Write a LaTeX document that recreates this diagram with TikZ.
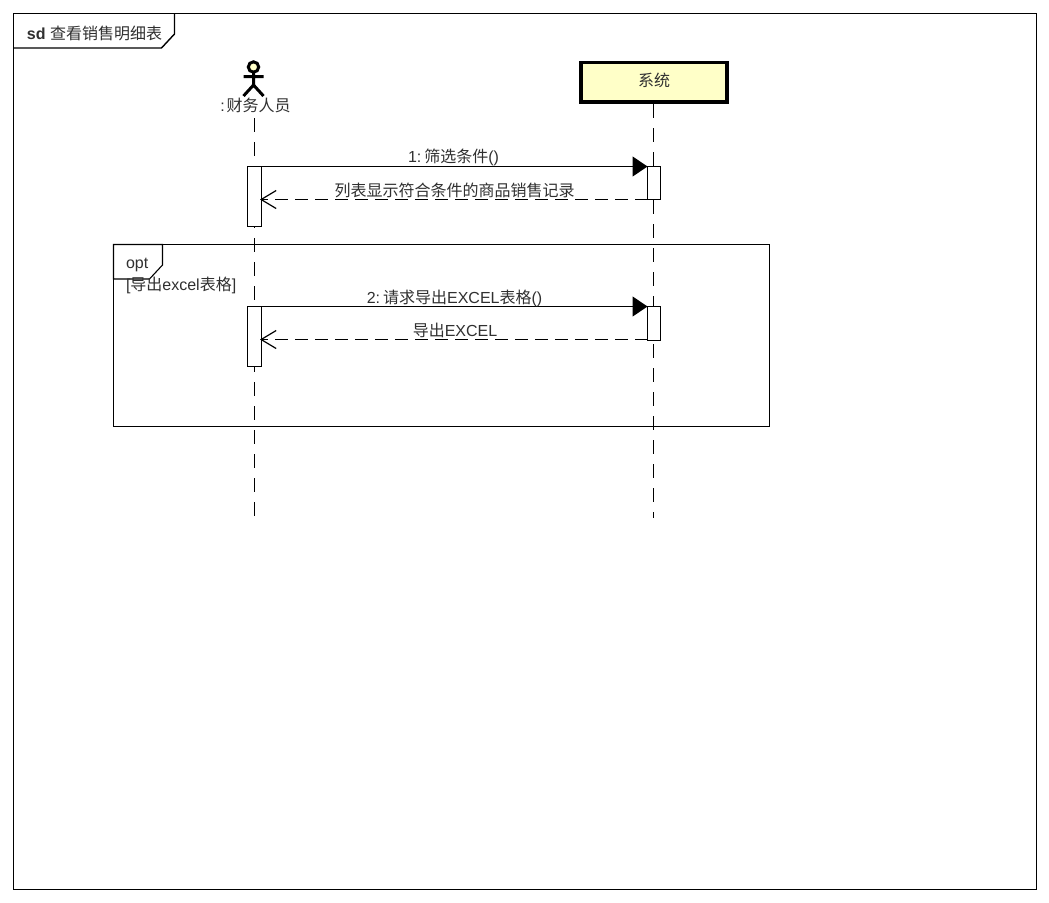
\documentclass[tikz,border=0pt]{standalone}
\usepackage{fontspec}
\setmainfont{Liberation Sans}
\newfontfamily\cjk{Noto Sans CJK SC}
\usetikzlibrary{arrows.meta}
\definecolor{noteyellow}{HTML}{FFFFC8}
\definecolor{txt}{HTML}{303030}
\tikzset{
  every node/.style={inner sep=0pt,outer sep=0pt,text=txt,font=\fontsize{16}{18}\selectfont},
  lifeline/.style={line width=1.1pt,dash pattern=on 14pt off 10pt},
  activation/.style={draw=black,fill=white,line width=1.1pt,anchor=north},
  syncmsg/.style={line width=1.2pt,-{Triangle[length=15pt,width=20pt]}},
  replymsg/.style={line width=1.2pt,dash pattern=on 13pt off 7pt,-{Straight Barb[length=15pt,width=18pt,line width=1.2pt]}},
  framebox/.style={line width=1.1pt},
  msglabel/.style={anchor=base},
}
\begin{document}
\begin{tikzpicture}[x=1pt,y=-1pt]
\useasboundingbox (0,0) rectangle (1049,902);
\fill[white] (0,0) rectangle (1049,902);
% outer frame
\node[draw=black,line width=1.1pt,minimum width=1023pt,minimum height=876pt,anchor=north west] (frame) at (13.5,13.5) {};
\draw[framebox,line width=1.4pt] (174.5,13.5) -- (174.5,34) -- (161.5,48) -- (13.5,48);
\node[anchor=base west] (sdlabel) at (27,39) {\textbf{sd} {\cjk 查看销售明细表}};
% actor
\coordinate (head) at (253.5,67);
\draw[line width=3pt,fill=noteyellow] (head) circle (5.2);
\draw[line width=3pt] (253.5,72.5) -- (253.5,85) (243.5,76.5) -- (263.5,76.5) (243.5,96) -- (253.5,85) -- (263.5,96);
\node[anchor=base] (actor) at (255.5,111.5) {:\hspace{2pt}{\cjk 财务人员}};
% system
\node[draw=black,fill=noteyellow,line width=3.2pt,minimum width=146pt,minimum height=39.5pt] (sys) at (654,82.25) {};
\node (systext) at (654,80) {\cjk 系统};
% lifeline ends
\coordinate (actorstart) at (254.5,118);
\coordinate (actorend) at (254.5,518);
\coordinate (sysstart) at (653.5,104);
\coordinate (sysend) at (653.5,518);
\draw[lifeline] (actorstart) -- (actorend);
\draw[lifeline] (sysstart) -- (sysend);
% opt frame
\node[draw=black,line width=1.1pt,minimum width=656pt,minimum height=182pt,anchor=north west] (opt) at (113.5,244.5) {};
\draw[framebox,fill=white] (113.5,244.5) -- (162.5,244.5) -- (162.5,265) -- (149.5,279) -- (113.5,279) -- cycle;
\node[anchor=base west] (optlabel) at (126,268.5) {opt};
\node[anchor=base west] (guard) at (126,290.5) {[{\cjk 导出}excel{\cjk 表格}]};
% activations
\node[activation,minimum width=14pt,minimum height=60pt] (a1) at (254.5,166.5) {};
\node[activation,minimum width=13pt,minimum height=33pt] (s1) at (654,166.5) {};
\node[activation,minimum width=14pt,minimum height=60pt] (a2) at (254.5,306.5) {};
\node[activation,minimum width=13pt,minimum height=34pt] (s2) at (654,306.5) {};
% messages
\draw[syncmsg] (a1.north east) -- (s1.north west);
\draw[replymsg] (s1.south west) -- ([xshift=-1.5pt]a1.east |- s1.south);
\draw[syncmsg] (a2.north east) -- (s2.north west);
\draw[replymsg] ([yshift=1pt]s2.south west) -- ([xshift=-1.5pt,yshift=1pt]a2.east |- s2.south);
% labels
\node[msglabel] (m1) at (453.5,162.5) {1:\hspace{3pt}{\cjk 筛选条件}()};
\node[msglabel] (m2) at (454.5,196) {\cjk 列表显示符合条件的商品销售记录};
\node[msglabel] (m3) at (454.5,303) {2:\hspace{3pt}{\cjk 请求导出}EXCEL{\cjk 表格}()};
\node[msglabel] (m4) at (455,336.5) {{\cjk 导出}EXCEL};
\end{tikzpicture}
\end{document}
